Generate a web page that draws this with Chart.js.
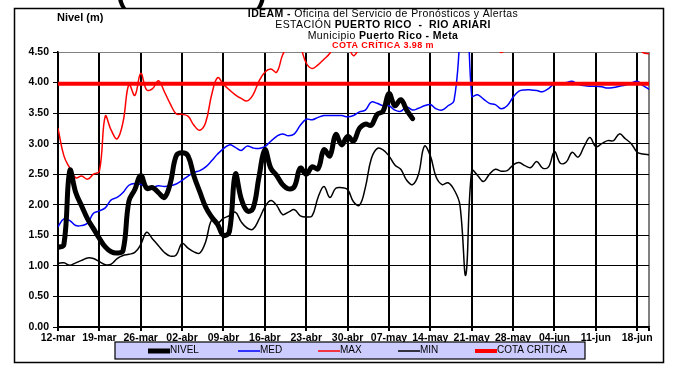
<!DOCTYPE html>
<html>
<head>
<meta charset="utf-8">
<script src="https://cdn.jsdelivr.net/npm/chart.js@4.4.1/dist/chart.umd.min.js"></script>
<style>
body{margin:0;background:#fff}
canvas{display:block}
</style>
</head>
<body>
<canvas id="chartNivel" width="676" height="366"></canvas>
<script>
// etiquetas semanales del eje x (cada 7 dias desde 12-mar)
var semanas = ['12-mar', '19-mar', '26-mar', '02-abr', '09-abr', '16-abr', '23-abr', '30-abr', '07-may', '14-may', '21-may', '28-may', '04-jun', '11-jun', '18-jun'];

// dia 0 = 12-mar ... dia 100 = 20-jun
var dias = [];
for (var i = 0; i <= 100; i++) dias.push(i);

var cotaCritica = 3.98;

var nivel = [1.30, 1.35, 2.56, 2.20, 1.98, 1.77, 1.61, 1.45, 1.31, 1.23,
             1.21, 1.25, 2.06, 2.25, 2.48, 2.27, 2.28, 2.20, 2.12, 2.35,
             2.80, 2.85, 2.80, 2.47, 2.21, 1.96, 1.80, 1.68, 1.50, 1.56,
             2.50, 2.10, 1.90, 1.94, 2.45, 2.90, 2.60, 2.48, 2.33, 2.26,
             2.30, 2.60, 2.50, 2.62, 2.59, 2.90, 2.80, 3.15, 2.98, 3.12,
             3.04, 3.25, 3.32, 3.30, 3.48, 3.53, 3.82, 3.62, 3.72, 3.55,
             3.41];

var med = [1.64, 1.77, 1.74, 1.66, 1.66, 1.70, 1.86, 1.90, 1.95, 2.08,
           2.12, 2.20, 2.32, 2.35, 2.33, 2.30, 2.29, 2.31, 2.30, 2.31,
           2.34, 2.40, 2.47, 2.53, 2.56, 2.62, 2.72, 2.83, 2.92, 2.98,
           2.94, 2.89, 2.96, 2.93, 2.92, 2.95, 3.04, 3.12, 3.16, 3.13,
           3.16, 3.30, 3.40, 3.39, 3.43, 3.46, 3.46, 3.46, 3.46, 3.44,
           3.46, 3.52, 3.55, 3.68, 3.66, 3.62, 3.62, 3.55, 3.53, 3.60,
           3.55, 3.58, 3.62, 3.64, 3.57, 3.55, 3.62, 3.70, 4.70, 6.00,
           3.78, 3.80, 3.73, 3.66, 3.64, 3.57, 3.62, 3.76, 3.86, 3.88,
           3.88, 3.87, 3.85, 3.90, 3.98, 3.98, 4.00, 4.02, 3.97, 3.95,
           3.94, 3.94, 3.93, 3.91, 3.92, 3.94, 3.96, 3.99, 4.02, 3.95,
           3.89];

var max = [3.25, 2.80, 2.60, 2.44, 2.47, 2.42, 2.50, 2.55, 3.45, 3.22,
           3.08, 3.35, 3.97, 3.79, 4.15, 3.88, 3.90, 4.03, 3.85, 3.65,
           3.49, 3.48, 3.45, 3.30, 3.22, 3.35, 3.80, 4.08, 3.97, 3.88,
           3.80, 3.74, 3.70, 3.80, 4.02, 4.17, 4.22, 4.17, 4.45, 4.62,
           4.70, 4.58, 4.32, 4.23, 4.29, 4.38, 4.48, 4.65, 4.75, 4.62,
           4.44, 4.58, 4.80, 5.00, 5.10, 5.20, 5.30, 5.20, 5.10, 5.00,
           4.90, 4.90, 5.00, 5.10, 5.00, 4.90, 4.90, 5.00, 6.00, 6.20,
           5.00, 4.80, 4.70, 4.60, 4.60, 4.49, 4.60, 4.70, 4.80, 4.80,
           4.90, 4.90, 4.90, 4.90, 5.00, 5.00, 5.00, 5.10, 5.10, 5.10,
           5.10, 5.00, 5.00, 4.90, 4.90, 4.80, 4.70, 4.60, 4.60, 4.49,
           4.47];

var min = [1.04, 1.05, 1.01, 1.05, 1.09, 1.13, 1.12, 1.07, 1.02, 1.03,
           1.12, 1.17, 1.19, 1.22, 1.35, 1.55, 1.44, 1.33, 1.22, 1.16,
           1.18, 1.37, 1.29, 1.23, 1.21, 1.40, 1.75, 1.70, 1.78, 1.82,
           1.88, 1.72, 1.62, 1.60, 1.76, 1.96, 2.07, 1.99, 1.84, 1.88,
           1.92, 1.82, 1.80, 1.82, 2.12, 2.30, 2.12, 2.27, 2.28, 2.25,
           2.05, 1.99, 2.28, 2.75, 2.92, 2.90, 2.80, 2.65, 2.58, 2.40,
           2.33, 2.50, 2.96, 2.80, 2.45, 2.33, 2.36, 2.25, 2.00, 0.85,
           2.56, 2.48, 2.38, 2.50, 2.58, 2.55, 2.56, 2.65, 2.69, 2.64,
           2.61, 2.71, 2.60, 2.62, 2.87, 2.68, 2.70, 2.86, 2.78, 2.95,
           3.10, 2.95, 3.00, 3.05, 3.05, 3.16, 3.08, 3.00, 2.86, 2.83,
           2.82];

var fuente = '"Liberation Sans", Arial, sans-serif';

var marco = {
    id: 'marco',
    beforeDraw: function(c) {
        var ctx = c.ctx;
        ctx.save();
        ctx.fillStyle = '#fff';
        ctx.fillRect(0, 0, c.width, c.height);
        ctx.strokeStyle = '#000';
        ctx.lineWidth = 1.5;
        ctx.strokeRect(14.5, 8.5, 649, 354);
        ctx.restore();
    },
    afterDraw: function(c) {
        var ctx = c.ctx;
        ctx.save();
        // restos del encabezado superior (cortado)
        ctx.fillStyle = '#000';
        ctx.font = 'bold 32px ' + fuente;
        ctx.textBaseline = 'alphabetic';
        ctx.textAlign = 'left';
        ctx.fillText('(', 116, 2);
        ctx.fillText(')', 256, 2);

        ctx.font = 'bold 11px ' + fuente;
        ctx.textBaseline = 'middle';
        ctx.fillText('Nivel (m)', 57, 18);

        var lineas = [
            [14.5, [['IDEAM - ', 'bold 10.5px', '#000'], ['Oficina del Servicio de Pronósticos y Alertas', '10.5px', '#000']]],
            [25.5, [['ESTACIÓN ', '10.5px', '#000'], ['PUERTO RICO  -  RIO ARIARI', 'bold 10.5px', '#000']]],
            [36, [['Municipio ', '10.5px', '#000'], ['Puerto Rico - Meta', 'bold 10.5px', '#000']]],
            [46, [['COTA CRÍTICA 3.98 m', 'bold 9px', '#f00']]]
        ];
        ctx.letterSpacing = '0.4px';
        lineas.forEach(function(l) {
            var total = 0;
            l[1].forEach(function(s) { ctx.font = s[1] + ' ' + fuente; total += ctx.measureText(s[0]).width; });
            var x = 383 - total / 2;
            l[1].forEach(function(s) {
                ctx.font = s[1] + ' ' + fuente;
                ctx.fillStyle = s[2];
                ctx.fillText(s[0], x, l[0]);
                x += ctx.measureText(s[0]).width;
            });
        });
        ctx.letterSpacing = '0px';

        // leyenda
        ctx.fillStyle = '#ccccff';
        ctx.fillRect(115, 342, 470, 17);
        ctx.strokeStyle = '#000';
        ctx.lineWidth = 1.2;
        ctx.strokeRect(115, 342, 470, 17);
        var xs = [148, 238, 318, 398, 475];
        ctx.font = '10px ' + fuente;
        c.data.datasets.forEach(function(ds, i) {
            ctx.strokeStyle = ds.borderColor;
            ctx.lineWidth = ds.borderWidth;
            ctx.beginPath();
            ctx.moveTo(xs[i], 351);
            ctx.lineTo(xs[i] + 22, 351);
            ctx.stroke();
            ctx.fillStyle = '#000';
            ctx.fillText(ds.label, xs[i] + 22, 350);
        });
        ctx.restore();
    }
};

var grafico = document.getElementById('chartNivel').getContext('2d');
var chart = new Chart(grafico, {
    type: 'line',
    data: {
        labels: dias,
        datasets: [
            { label: 'NIVEL', data: nivel, borderColor: '#000', borderWidth: 5, order: 0 },
            { label: 'MED', data: med, borderColor: '#0000ff', borderWidth: 1.5, order: 4 },
            { label: 'MAX', data: max, borderColor: '#ff0000', borderWidth: 1.5, order: 3 },
            { label: 'MIN', data: min, borderColor: '#000', borderWidth: 1.5, order: 2 },
            { label: 'COTA CRITICA', data: dias.map(function() { return cotaCritica; }), borderColor: '#ff0000', borderWidth: 4, order: 1, tension: 0 }
        ]
    },
    options: {
        responsive: false,
        animation: false,
        devicePixelRatio: 1,
        layout: { padding: { left: 0, top: 52, right: 27, bottom: 0 } },
        elements: {
            point: { radius: 0 },
            line: { tension: 0.4, fill: false, borderCapStyle: 'round', borderJoinStyle: 'round' }
        },
        datasets: { line: { clip: 0 } },
        plugins: { legend: { display: false }, tooltip: { enabled: false } },
        scales: {
            x: {
                type: 'linear',
                min: 0,
                max: 100,
                afterFit: function(s) { s.height = 39; },
                afterBuildTicks: function(s) {
                    var t = semanas.map(function(e, k) { return { value: k * 7 }; });
                    t.push({ value: 100 });
                    s.ticks = t;
                },
                border: { color: '#000', width: 1.5 },
                grid: {
                    color: function(ctx) { return ctx.tick && ctx.tick.value === 100 ? '#808080' : '#000'; },
                    tickColor: '#000',
                    lineWidth: 2,
                    tickLength: 4
                },
                ticks: {
                    autoSkip: false,
                    maxRotation: 0,
                    padding: 1,
                    color: '#000',
                    font: { family: fuente, size: 10.5, weight: 'bold' },
                    callback: function(v) { return v % 7 === 0 ? semanas[v / 7] : ''; }
                }
            },
            y: {
                min: 0,
                max: 4.5,
                afterFit: function(s) { s.width = 58; },
                border: { color: '#000', width: 1.5 },
                grid: {
                    color: function(ctx) { return ctx.tick && ctx.tick.value === 4.5 ? '#808080' : '#000'; },
                    tickColor: '#000',
                    lineWidth: 1,
                    tickLength: 5
                },
                ticks: {
                    stepSize: 0.5,
                    padding: 4,
                    color: '#000',
                    font: { family: fuente, size: 10.5, weight: 'bold' },
                    callback: function(v) { return v.toFixed(2); }
                }
            }
        }
    },
    plugins: [marco]
});
</script>
</body>
</html>
